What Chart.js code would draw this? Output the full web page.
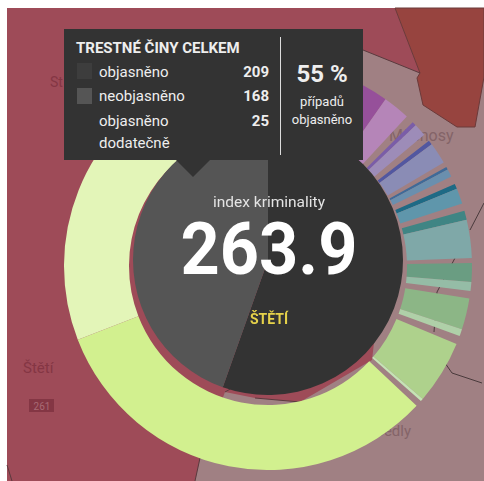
<!DOCTYPE html>
<html><head><meta charset="utf-8">
<script src="https://cdn.jsdelivr.net/npm/chart.js@4"></script>
<style>
html,body{margin:0;padding:0;background:#fff;width:484px;height:481px;overflow:hidden;font-family:Roboto,sans-serif}
#map{position:absolute;left:0;top:0}
#ring{position:absolute;left:64px;top:62px}
#pie{position:absolute;left:133px;top:125px}
.t{position:absolute;white-space:nowrap;line-height:1}
#tip{position:absolute;left:64px;top:29px;width:299px;height:131px;background:#333;color:#eee}
#arrow{position:absolute;left:176px;top:160px;width:0;height:0;border-left:17px solid transparent;border-right:17px solid transparent;border-top:17px solid #333}
.sw{position:absolute;width:15px;height:16px}
</style></head><body>
<svg id="map" width="484" height="481">
<rect x="7" y="8" width="477" height="473" fill="#a08083"/>
<path d="M7 8H395L420 73L363 50L363 160L374 343L372 360L300 402L255 398L225 392L200 458L195 481H7Z" fill="#9e4b58"/>
<path d="M395 8H484V77L475 127L457 127L423 105L417 78L420 73Z" fill="#97443f" stroke="#6b3a3a" stroke-width="1"/>
<path d="M363 50L420 73M200 458L195 481M7 465L12 481M225 392L232 388M255 398L300 402" stroke="#5a3a3e" fill="none"/>
<path d="M455 258L437 292L434 332M445 363L452 373L482 383M484 203L470 230" stroke="#4a3a3c" fill="none"/>
<text x="23" y="373" font-size="15" fill="#843644" font-family="Roboto">Štětí</text>
<rect x="29" y="399" width="25" height="13" fill="#843644"/>
<text x="42" y="410" font-size="10" fill="#a86a74" text-anchor="middle" font-family="Roboto">261</text>
<text x="50" y="87" font-size="14" fill="#843644" font-family="Roboto">St</text>
<text x="389" y="141" font-size="16" fill="#846468" font-family="Roboto">Mšenosy</text>
<text x="375" y="436" font-size="15" fill="#846468" font-family="Roboto">Sedly</text>
</svg>
<canvas id="ring" width="408" height="408"></canvas>
<canvas id="pie" width="270" height="270"></canvas>
<div class="t" style="left:169px;width:200px;text-align:center;top:195px;font-size:15.5px;color:#e4e4e4">index kriminality</div>
<div class="t" style="left:119px;width:300px;text-align:center;top:214px;font-size:72px;font-weight:700;color:#fff;transform:scaleX(.95)">263.9</div>
<div class="t" style="left:169px;width:200px;text-align:center;top:312px;font-size:14px;font-weight:700;color:#e6d24a">ŠTĚTÍ</div>
<div id="arrow"></div>
<div id="tip">
 <div class="t" style="left:12px;top:12px;font-size:15px;font-weight:700">TRESTNÉ ČINY CELKEM</div>
 <div class="sw" style="left:13px;top:34px;background:#3d3d3d"></div>
 <div class="t" style="left:35px;top:36px;font-size:15px">objasněno</div>
 <div class="t" style="right:94px;top:36px;font-size:15px;font-weight:700">209</div>
 <div class="sw" style="left:13px;top:59px;background:#555"></div>
 <div class="t" style="left:35px;top:60px;font-size:15px">neobjasněno</div>
 <div class="t" style="right:94px;top:60px;font-size:15px;font-weight:700">168</div>
 <div class="t" style="left:35px;top:85px;font-size:15px">objasněno</div>
 <div class="t" style="right:94px;top:85px;font-size:15px;font-weight:700">25</div>
 <div class="t" style="left:35px;top:107px;font-size:15px">dodatečně</div>
 <div style="position:absolute;left:216px;top:8px;width:1px;height:118px;background:#ddd"></div>
 <div class="t" style="left:217px;width:82px;text-align:center;top:33px;font-size:24px;font-weight:700">55 %</div>
 <div class="t" style="left:217px;width:82px;text-align:center;top:66px;font-size:13px">případů</div>
 <div class="t" style="left:217px;width:82px;text-align:center;top:84px;font-size:13px">objasněno</div>
</div>
<script>
const caseLabels = ['objasněno','neobjasněno'];
const caseValues = [209,168];
const caseColors = ['#333333','#555555'];
// clockwise from the ring start, sizes in degrees; "mezera" = gap
const ringLabels = ['a-1','a-2','mezera','b-1','b-2','mezera','c-1','c-2','mezera','d-1','d-2','mezera','e-1','e-2','mezera','f-1','f-2','mezera','g-1','g-2','mezera','h-1','h-2','mezera','i-1','i-2','mezera','j-1','j-2','mezera'];
const ringValues = [57.2,7.7,2.3,1.2,3.6,2.1,1.3,6.1,1.5,0.8,2.2,2.3,1.5,4.4,2.1,2.6,10.9,1.4,5.3,2.6,2.1,8.9,2,2.4,18.2,0.8,1.8,115.6,86,3.2];
const ringColors = ['#96509a','#b585b8','transparent','#7a5da8','#9d8cb8','transparent','#5257a0','#8a8cb5','transparent','#3f6a98','#6a8fae','transparent','#1e6a85','#5f96ab','transparent','#3f8584','#7fa8a8','transparent','#6a9d82','#95bca6','transparent','#8cb686','#afd0a8','transparent','#aed18c','#c5e3b5','transparent','#d2f08f','#e3f5b8','transparent'];
const ringStart = -22;
const base = {responsive:false,animation:false,layout:{padding:0},plugins:{legend:{display:false},tooltip:{enabled:false}}};
new Chart(document.getElementById('ring'),{type:'doughnut',
 data:{labels:ringLabels,datasets:[{data:ringValues,backgroundColor:ringColors,borderWidth:0}]},
 options:{...base,cutout:139,radius:204,rotation:ringStart}});
new Chart(document.getElementById('pie'),{type:'pie',
 data:{labels:caseLabels,datasets:[{data:caseValues,backgroundColor:caseColors,borderWidth:0}]},
 options:{...base,radius:135}});
</script>
</body></html>
